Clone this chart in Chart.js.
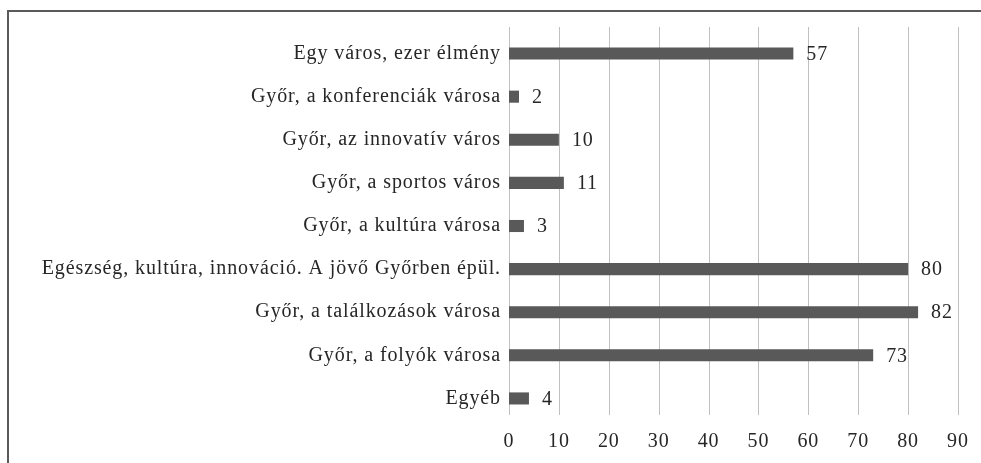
<!DOCTYPE html>
<html>
<head>
<meta charset="utf-8">
<script src="https://cdn.jsdelivr.net/npm/chart.js@4/dist/chart.umd.min.js"></script>
<style>
    body { margin: 0; background: #fff; }
    #frame { position: absolute; left: 7px; top: 10px; width: 980px; height: 460px; border-left: 2px solid #5a5a5a; border-top: 2px solid #5a5a5a; }
    #wrap { position: absolute; left: 0; top: 0; width: 981px; height: 463px; }
</style>
</head>
<body>
<div id="frame"></div>
<div id="wrap"><canvas id="barChart"></canvas></div>
<script>
        const labels = [
            'Egy város, ezer élmény',
            'Győr, a konferenciák városa',
            'Győr, az innovatív város',
            'Győr, a sportos város',
            'Győr, a kultúra városa',
            'Egészség, kultúra, innováció. A jövő Győrben épül.',
            'Győr, a találkozások városa',
            'Győr, a folyók városa',
            'Egyéb'
        ];
        const values = [57, 2, 10, 11, 3, 80, 82, 73, 4];
        const xTicks = [0, 10, 20, 30, 40, 50, 60, 70, 80, 90];

        const serif = '"Liberation Serif", "DejaVu Serif", serif';

        // kicsit szélesebb betűköz, hogy a Garamond-szerű szedéshez hasonlítson
        const spacing = {
            id: 'spacing',
            beforeDraw(chart) { chart.ctx.letterSpacing = '0.9px'; },
            afterDraw(chart) { chart.ctx.letterSpacing = '0px'; }
        };

        // függőleges rácsvonalak (kicsit feljebb tolva, mint az eredetin)
        const gridLines = {
            id: 'gridLines',
            beforeDatasetsDraw(chart) {
                const ctx = chart.ctx;
                const x = chart.scales.x;
                const area = chart.chartArea;
                ctx.save();
                ctx.strokeStyle = '#c0c0c0';
                ctx.lineWidth = 1;
                xTicks.forEach(v => {
                    const px = Math.round(x.getPixelForValue(v)) + 0.5;
                    ctx.beginPath();
                    ctx.moveTo(px, area.top - 5);
                    ctx.lineTo(px, area.bottom - 5);
                    ctx.stroke();
                });
                ctx.restore();
            }
        };

        // értékek kiírása a sávok mellé
        const valueLabels = {
            id: 'valueLabels',
            afterDatasetsDraw(chart) {
                const ctx = chart.ctx;
                const meta = chart.getDatasetMeta(0);
                ctx.save();
                ctx.font = '20px ' + serif;
                ctx.fillStyle = '#262626';
                ctx.textAlign = 'left';
                ctx.textBaseline = 'middle';
                meta.data.forEach((bar, i) => {
                    ctx.fillText(values[i], bar.x + 13, bar.y + 1);
                });
                ctx.restore();
            }
        };

        const barCtx = document.getElementById('barChart');
        new Chart(barCtx, {
            type: 'bar',
            data: {
                labels: labels,
                datasets: [{
                    data: values,
                    backgroundColor: '#595959',
                    barPercentage: 0.56,
                    categoryPercentage: 0.5
                }]
            },
            plugins: [spacing, gridLines, valueLabels],
            options: {
                indexAxis: 'y',
                responsive: true,
                maintainAspectRatio: false,
                animation: false,
                layout: { padding: { top: 32, right: 23, bottom: 0, left: 0 } },
                plugins: {
                    legend: { display: false },
                    tooltip: { enabled: false }
                },
                scales: {
                    x: {
                        min: 0,
                        max: 90,
                        afterBuildTicks: (s) => { s.ticks = xTicks.map(v => ({ value: v })); },
                        afterFit: (s) => { s.height = 43; },
                        grid: { display: false, drawTicks: false },
                        border: { display: false },
                        ticks: { padding: 10, color: '#262626', font: { family: serif, size: 20 } }
                    },
                    y: {
                        afterFit: (s) => { s.width = 509; },
                        grid: { display: false, drawTicks: false },
                        border: { display: false },
                        ticks: { padding: 8, color: '#262626', font: { family: serif, size: 20 } }
                    }
                }
            }
        });
</script>
</body>
</html>
